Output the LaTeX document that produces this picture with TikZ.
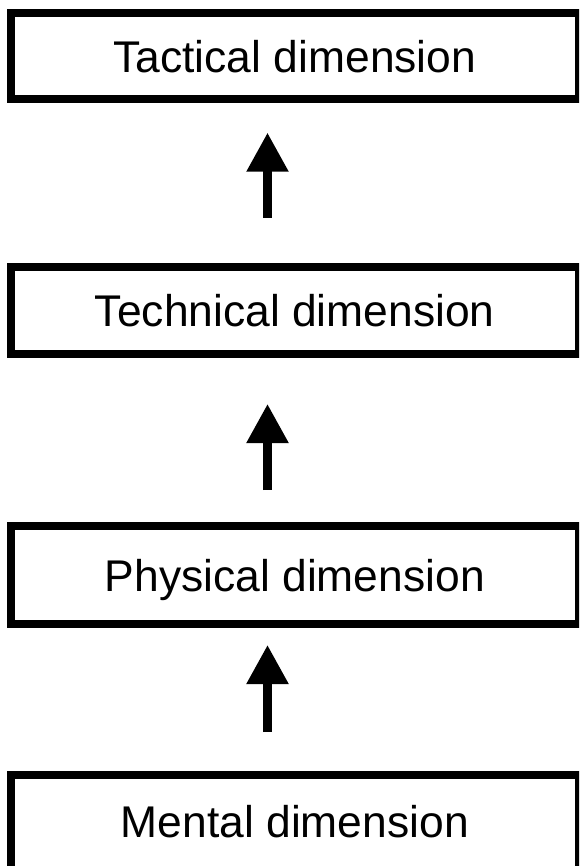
\documentclass[tikz,border=0pt]{standalone}
\usepackage{fontspec}
\setmainfont{Liberation Sans}
\usetikzlibrary{arrows.meta}

\begin{document}
\begin{tikzpicture}[x=1pt, y=-1pt,
  dimbox/.style={draw=black, line width=8pt, inner sep=0pt,
    minimum width=568.3pt, text height=32pt, text depth=0pt,
    font=\fontsize{44.4}{53}\selectfont},
  uparrow/.style={line width=8.5pt, -{Triangle[length=39pt, width=40pt]}}]
  \useasboundingbox (0,0) rectangle (579,866);
  \clip (0,0) rectangle (579,866);

  % the four stacked dimensions
  \node[dimbox, minimum height=85.7pt] (tac) at (294.85,56.15) {Tactical dimension};
  \node[dimbox, minimum height=87.3pt] (tec) at (294.85,310.35) {Technical dimension};
  \node[dimbox, minimum height=97.7pt] (phy) at (294.85,575.15) {Physical dimension};
  \node[dimbox, minimum height=100pt, text depth=7pt] (men) at (294.85,825) {Mental dimension};

  % arrows run along a common vertical line
  \coordinate (ax) at (267.5,0);
  \draw[uparrow, shorten <=44.7pt, shorten >=29.7pt] (tec.north -| ax) -- (tac.south -| ax);
  \draw[uparrow, shorten <=32.3pt, shorten >=46pt] (phy.north -| ax) -- (tec.south -| ax);
  \draw[uparrow, shorten <=39pt, shorten >=17pt] (men.north -| ax) -- (phy.south -| ax);
\end{tikzpicture}
\end{document}
